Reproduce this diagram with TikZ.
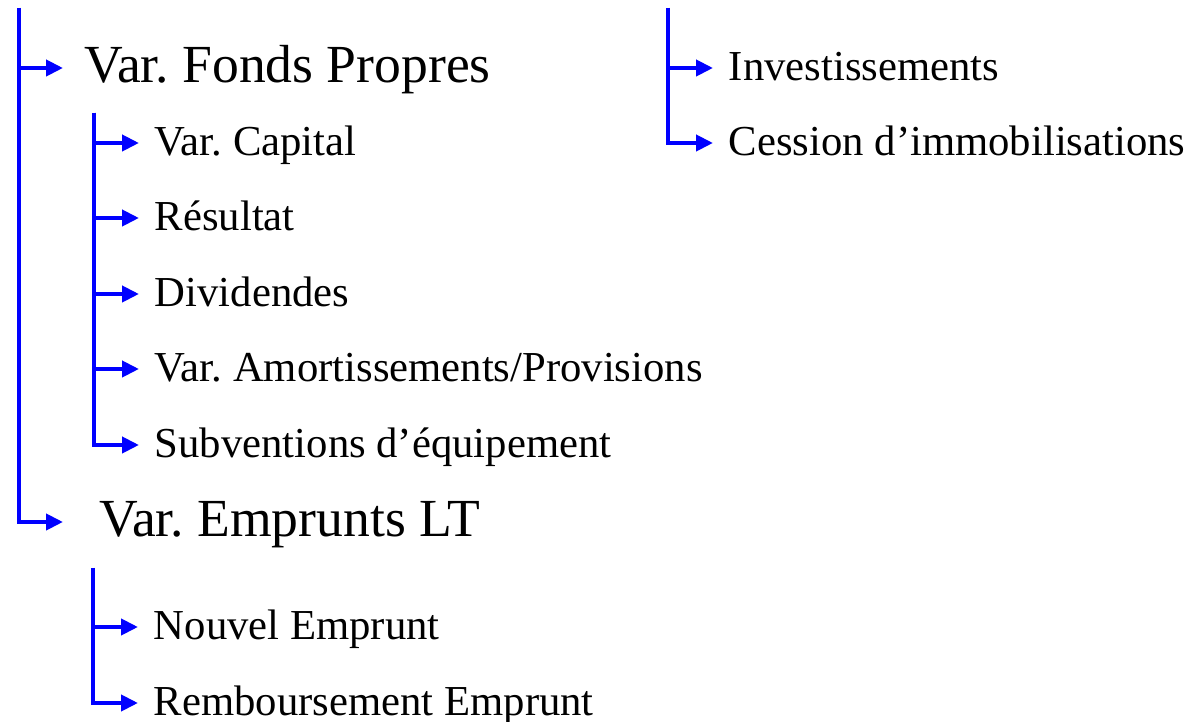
\documentclass[tikz,border=0pt]{standalone}
\usepackage{fontspec}
\setmainfont{Liberation Serif}
\usepackage{xcolor}
\usetikzlibrary{arrows.meta}
\frenchspacing

\definecolor{branchblue}{RGB}{0,0,255}
\tikzset{
    branch/.style={draw=branchblue, line width=2.3pt, -{Triangle[length=0.34cm,width=0.32cm]}},
    mainitem/.style={anchor=west, inner xsep=0.42cm, inner ysep=0pt, text height=18.5pt, text depth=2pt, font=\fontsize{30.5}{36}\selectfont},
    subitem/.style={anchor=west, inner xsep=0.31cm, inner ysep=0pt, text height=16pt, text depth=2.2pt, font=\fontsize{24.3}{29}\selectfont}
}

\begin{document}
\begin{tikzpicture}[x=0.02cm, y=-0.02cm]
    \useasboundingbox (0,0) rectangle (1197,722);

    % top of each vertical bar
    \coordinate (maintop) at (19,8);
    \coordinate (fptop) at (94,113);
    \coordinate (lttop) at (93,568);
    \coordinate (invtop) at (668,8);

    \node[mainitem] (fp) at (63,68) {Var. Fonds Propres};
    \node[mainitem, inner xsep=0.72cm] (lt) at (63,522) {Var. Emprunts LT};

    \node[subitem] (cap) at (139,143) {Var. Capital};
    \node[subitem] (res) at (139,218) {Résultat};
    \node[subitem] (div) at (139,294) {Dividendes};
    \node[subitem] (amo) at (139,369) {Var. Amortissements/Provisions};
    \node[subitem] (sub) at (139,445) {Subventions d’équipement};

    \node[subitem] (nouv) at (138,627) {Nouvel Emprunt};
    \node[subitem] (remb) at (138,703) {Remboursement Emprunt};

    \node[subitem] (inv) at (713,68) {Investissements};
    \node[subitem] (ces) at (713,143) {Cession d’immobilisations};

    \draw[branch] (maintop) |- (fp.west);
    \draw[branch] (maintop) |- (lt.west);
    \foreach \n in {cap,res,div,amo,sub}
        \draw[branch] (fptop) |- (\n.west);
    \foreach \n in {nouv,remb}
        \draw[branch] (lttop) |- (\n.west);
    \foreach \n in {inv,ces}
        \draw[branch] (invtop) |- (\n.west);

\end{tikzpicture}
\end{document}
